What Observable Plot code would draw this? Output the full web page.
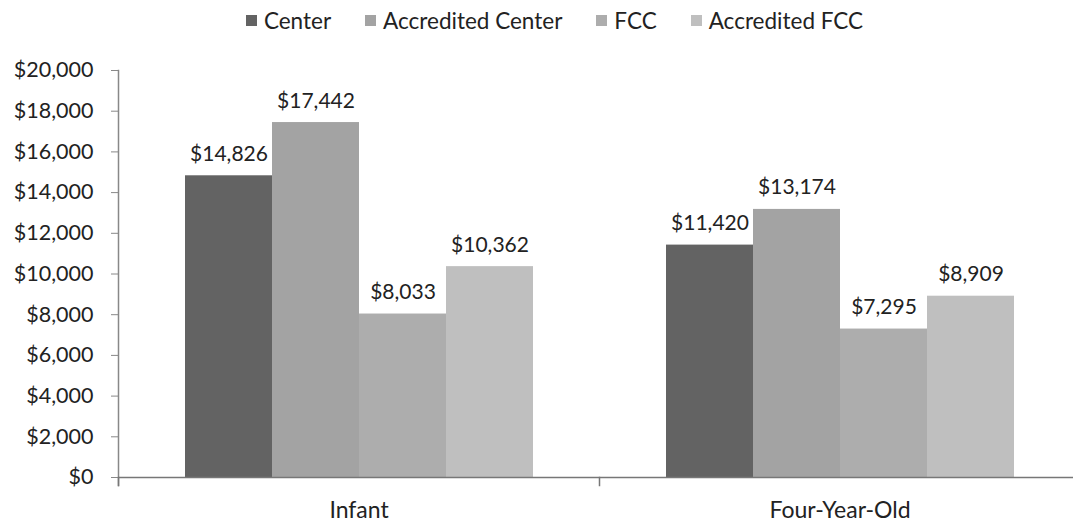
<!DOCTYPE html>
<html>
<head>
<meta charset="utf-8">
<script src="https://cdn.jsdelivr.net/npm/d3@7"></script>
<script src="https://cdn.jsdelivr.net/npm/@observablehq/plot@0.6"></script>
<style>
  html, body { margin: 0; padding: 0; background: #fff; }
  body { width: 1073px; height: 527px; overflow: hidden; font-family: Lato, "Open Sans", sans-serif; color: #222; }
  #legend { height: 40px; display: flex; justify-content: center; align-items: center; gap: 34px; font-size: 22.5px; padding-left: 36px; box-sizing: border-box; }
  #legend span.item { display: flex; align-items: center; gap: 7px; }
  #legend span.sw { width: 11px; height: 11px; display: inline-block; }
</style>
</head>
<body>
<div id="legend"></div>
<div id="chart"></div>
<script>
const ageGroups = ["Infant", "Four-Year-Old"];
const careTypes = ["Center", "Accredited Center", "FCC", "Accredited FCC"];
const infantCosts = [14826, 17442, 8033, 10362];
const fourYearOldCosts = [11420, 13174, 7295, 8909];
const colors = ["#636363", "#a3a3a3", "#adadad", "#bfbfbf"];
const yTicks = [0, 2000, 4000, 6000, 8000, 10000, 12000, 14000, 16000, 18000, 20000];

const data = [];
careTypes.forEach((t, i) => {
  data.push({age: ageGroups[0], type: t, value: infantCosts[i]});
  data.push({age: ageGroups[1], type: t, value: fourYearOldCosts[i]});
});

const money = d => "$" + d3.format(",")(d);

const legend = document.getElementById("legend");
careTypes.forEach((t, i) => {
  const s = document.createElement("span");
  s.className = "item";
  s.innerHTML = `<span class="sw" style="background:${colors[i]}"></span>${t}`;
  legend.appendChild(s);
});

const chart = Plot.plot({
  width: 1073,
  height: 487,
  marginLeft: 118,
  marginRight: 0,
  marginTop: 30,
  marginBottom: 50,
  style: {fontFamily: "Lato, 'Open Sans', sans-serif", fontSize: "21px", color: "#222", background: "#fff", overflow: "visible"},
  fx: {domain: ageGroups, range: [118, 1080], padding: 0, label: null, axis: null},
  x: {domain: careTypes, paddingInner: 0, paddingOuter: 0.764, axis: null},
  y: {domain: [0, 20000], ticks: yTicks, label: null, axis: null},
  color: {domain: careTypes, range: colors},
  marks: [
    Plot.barY(data, {fx: "age", x: "type", y: "value", fill: "type", inset: 0}),
    Plot.text(data, {fx: "age", x: "type", y: "value", text: d => money(d.value), lineAnchor: "bottom", dy: -15, fontSize: 21, fill: "#222"}),
    Plot.axisY({ticks: yTicks, tickFormat: money, tickSize: 7, tickPadding: 18, stroke: "#888", fontSize: 21.5, fill: "#222"}),
    Plot.frame({anchor: "left", facetAnchor: "left", insetBottom: -8, stroke: "#888", strokeWidth: 1.5}),
    Plot.frame({anchor: "left", insetTop: 407, insetBottom: -8, stroke: "#777", strokeWidth: 1.5}),
    Plot.ruleY([0], {stroke: "#777", strokeWidth: 1.5}),
    Plot.axisFx({anchor: "bottom", tickSize: 0, tickPadding: 24, fontSize: 23, label: null})
  ]
});
document.getElementById("chart").appendChild(chart);
</script>
</body>
</html>
